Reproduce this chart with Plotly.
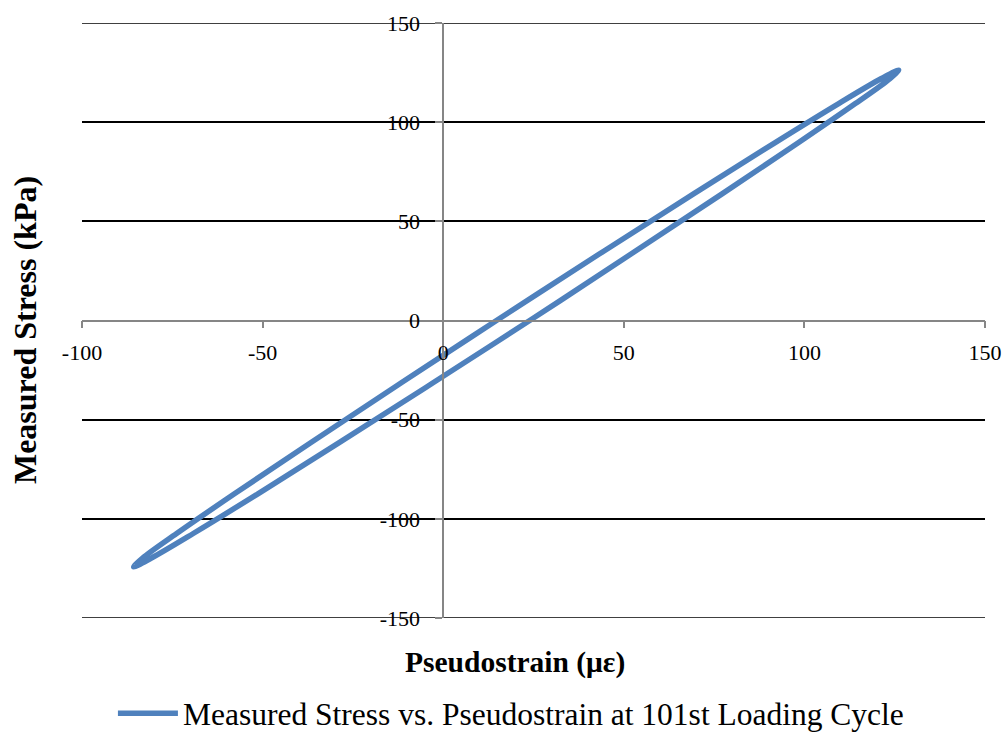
import plotly.graph_objects as go

# Hysteresis loop points (pseudostrain in microstrain, stress in kPa)
pseudostrain = [15.6, -11.6, -36.7, -57.9, -73.8, -83.3, -85.7, -80.9, -69.2, -51.4,
                -28.8, -2.8, 24.8, 52.0, 77.1, 98.3, 114.2, 123.7, 126.1, 121.3,
                109.6, 91.8, 69.2, 43.2, 15.6]
stress = [1.0, -31.4, -61.6, -87.5, -107.4, -119.9, -124.2, -119.9, -107.4, -87.5,
          -61.6, -31.4, 1.0, 33.5, 63.7, 89.6, 109.5, 122.0, 126.3, 122.0,
          109.5, 89.6, 63.7, 33.5, 1.0]

x_ticks = [-100, -50, 0, 50, 100, 150]
y_ticks = [-150, -100, -50, 0, 50, 100, 150]
series_name = "Measured Stress vs. Pseudostrain at 101st Loading Cycle"
x_title = "Pseudostrain (με)"
y_title = "Measured Stress (kPa)"

FONT = "Liberation Serif, Times New Roman, serif"

fig = go.Figure()
fig.add_trace(go.Scatter(
    x=pseudostrain, y=stress, mode="lines", name=series_name,
    line=dict(color="#4F81BD", width=5.5, shape="spline", smoothing=1.0),
    showlegend=True,
))

# gridlines at the range edges (plotly omits those), drawn from the tick list
edge_grid = [dict(type="line", xref="paper", yref="y", x0=0, x1=1, y0=v, y1=v,
                  line=dict(color="black", width=1.5), layer="below")
             for v in (y_ticks[0], y_ticks[-1])]

fig.update_layout(
    width=1007, height=733,
    margin=dict(l=82, r=22, t=23, b=115, autoexpand=False),
    paper_bgcolor="white", plot_bgcolor="white",
    font=dict(family=FONT, size=22, color="black"),
    xaxis=dict(
        range=[-100, 150], tickvals=x_ticks, ticktext=[str(v) for v in x_ticks],
        showgrid=False, zeroline=False,
        showline=True, linecolor="#868686", linewidth=1.5,
        ticks="outside", ticklen=7, tickcolor="#868686", tickwidth=1.5,
        anchor="free", position=0.5,
        tickfont=dict(family=FONT, size=22, color="black"),
        ticklabelstandoff=5,
    ),
    yaxis=dict(
        range=[-150, 150], tickvals=y_ticks, ticktext=[str(v) for v in y_ticks],
        showgrid=True, gridcolor="black", gridwidth=1.5, zeroline=False,
        showline=True, linecolor="#868686", linewidth=1.5,
        ticks="outside", ticklen=7, tickcolor="#868686", tickwidth=1.5,
        anchor="free", position=0.4,
        tickfont=dict(family=FONT, size=22, color="black"),
        ticklabelstandoff=11,
    ),
    shapes=edge_grid,
    legend=dict(
        x=0.475, y=-0.16, xanchor="center", yanchor="middle",
        orientation="h", font=dict(family=FONT, size=31.5, color="black"),
        itemwidth=60, bgcolor="rgba(0,0,0,0)",
    ),
    annotations=[
        dict(text="<b>" + x_title + "</b>", xref="paper", yref="paper",
             x=0.4795, y=-0.0756, xanchor="center", yanchor="middle",
             showarrow=False, font=dict(family=FONT, size=29.5, color="black")),
        dict(text="<b>" + y_title + "</b>", xref="paper", yref="paper",
             x=-0.0631, y=0.484, xanchor="center", yanchor="middle", textangle=-90,
             showarrow=False, font=dict(family=FONT, size=32, color="black")),
    ],
)

fig.write_html("out.html", config={"displayModeBar": False},
               post_script="document.body.style.margin='0';")
